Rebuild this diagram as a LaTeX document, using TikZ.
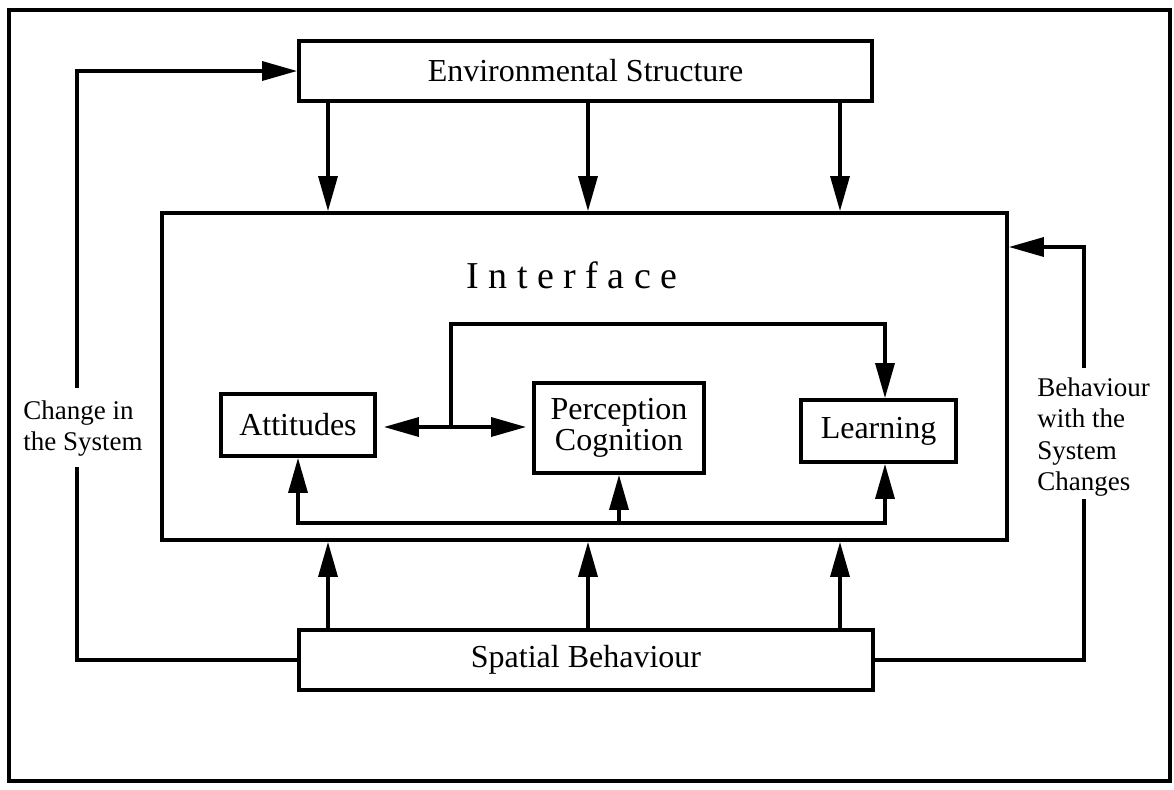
\documentclass[tikz,border=0pt]{standalone}
\usepackage{fontspec}
\setmainfont{Liberation Serif}
\usetikzlibrary{arrows.meta}
\begin{document}
\begin{tikzpicture}[x=0.5pt,y=-0.5pt,
  box/.style={draw,line width=1.9pt,inner sep=0pt,align=center,
    font=\fontsize{16}{15.5}\selectfont},
  conn/.style={line width=1.7pt},
  arr/.style={conn,-{Triangle[length=17.5pt,width=9.5pt]}},
  arrtwo/.style={conn,{Triangle[length=17.5pt,width=9.5pt]}-{Triangle[length=17.5pt,width=9.5pt]}},
  side/.style={font=\fontsize{13.5}{15.8}\selectfont,align=left,inner sep=0pt,anchor=north west}]
\useasboundingbox (0,0) rectangle (1174,789);

% outer frame
\node[draw,line width=1.7pt,minimum width=580.5pt,minimum height=385.5pt,inner sep=0pt]
  (frame) at (589.5,395.5) {};

% main boxes
\node[box,minimum width=286.5pt,minimum height=30pt] (env) at (585.5,71) {Environmental Structure};
\node[box,minimum width=422.5pt,minimum height=163.5pt] (iface) at (584.5,376.5) {};
\node[font=\fontsize{19}{19}\selectfont,anchor=base,inner sep=0pt] (iftitle) at (572,288) {I n t e r f a c e};
\node[box,minimum width=77pt,minimum height=31pt] (att) at (298,425) {Attitudes};
\node[box,minimum width=85pt,minimum height=45pt] (perc) at (619,428) {Perception\\Cognition};
\node[box,minimum width=77.5pt,minimum height=31pt] (learn) at (878.5,431) {Learning};
\node[box,minimum width=287pt,minimum height=30pt] (sp) at (586,660) {Spatial Behaviour};

% helper columns and rows
\coordinate (c1) at (328,0);
\coordinate (c2) at (588,0);
\coordinate (c3) at (840,0);
\coordinate (lx) at (77,0);
\coordinate (lgapT) at (0,388);
\coordinate (lgapB) at (0,467);
\coordinate (rx) at (1084,0);
\coordinate (rgapT) at (0,368);
\coordinate (rgapB) at (0,499);
\coordinate (ry) at (0,247);
\coordinate (jn) at (451,427);
\coordinate (toprow) at (0,324);
\coordinate (lcol) at (885,0);
\coordinate (brow) at (0,523);

% structure -> interface, behaviour -> interface
\foreach \c in {c1,c2,c3} {
  \draw[arr] (env.south -| \c) -- (iface.north -| \c);
  \draw[arr] (sp.north -| \c) -- (iface.south -| \c);
}

% left feedback loop
\draw[conn] (sp.west) -- (sp.west -| lx) -- (lx |- lgapB);
\draw[arr] (lx |- lgapT) -- (lx |- env.west) -- (env.west);
\node[side] (chg) at (23,400) {Change in\\the System};

% right feedback loop
\draw[conn] (sp.east) -- (sp.east -| rx) -- (rx |- rgapB);
\draw[arr] (rx |- rgapT) -- (rx |- ry) -- (iface.east |- ry);
\node[side] (beh) at (1037,377) {Behaviour\\with the\\System\\Changes};

% links inside the interface
\draw[arrtwo,shorten <=3.5pt,shorten >=3pt] (att.east |- jn) -- (perc.west |- jn);
\draw[arr] (jn) -- (jn |- toprow) -- (toprow -| lcol) -- (learn.north -| lcol);
\draw[arrtwo] (att.south) -- (att.south |- brow) -- (brow -| lcol) -- (learn.south -| lcol);
\draw[arr] (brow -| perc.south) -- (perc.south);
\end{tikzpicture}
\end{document}
